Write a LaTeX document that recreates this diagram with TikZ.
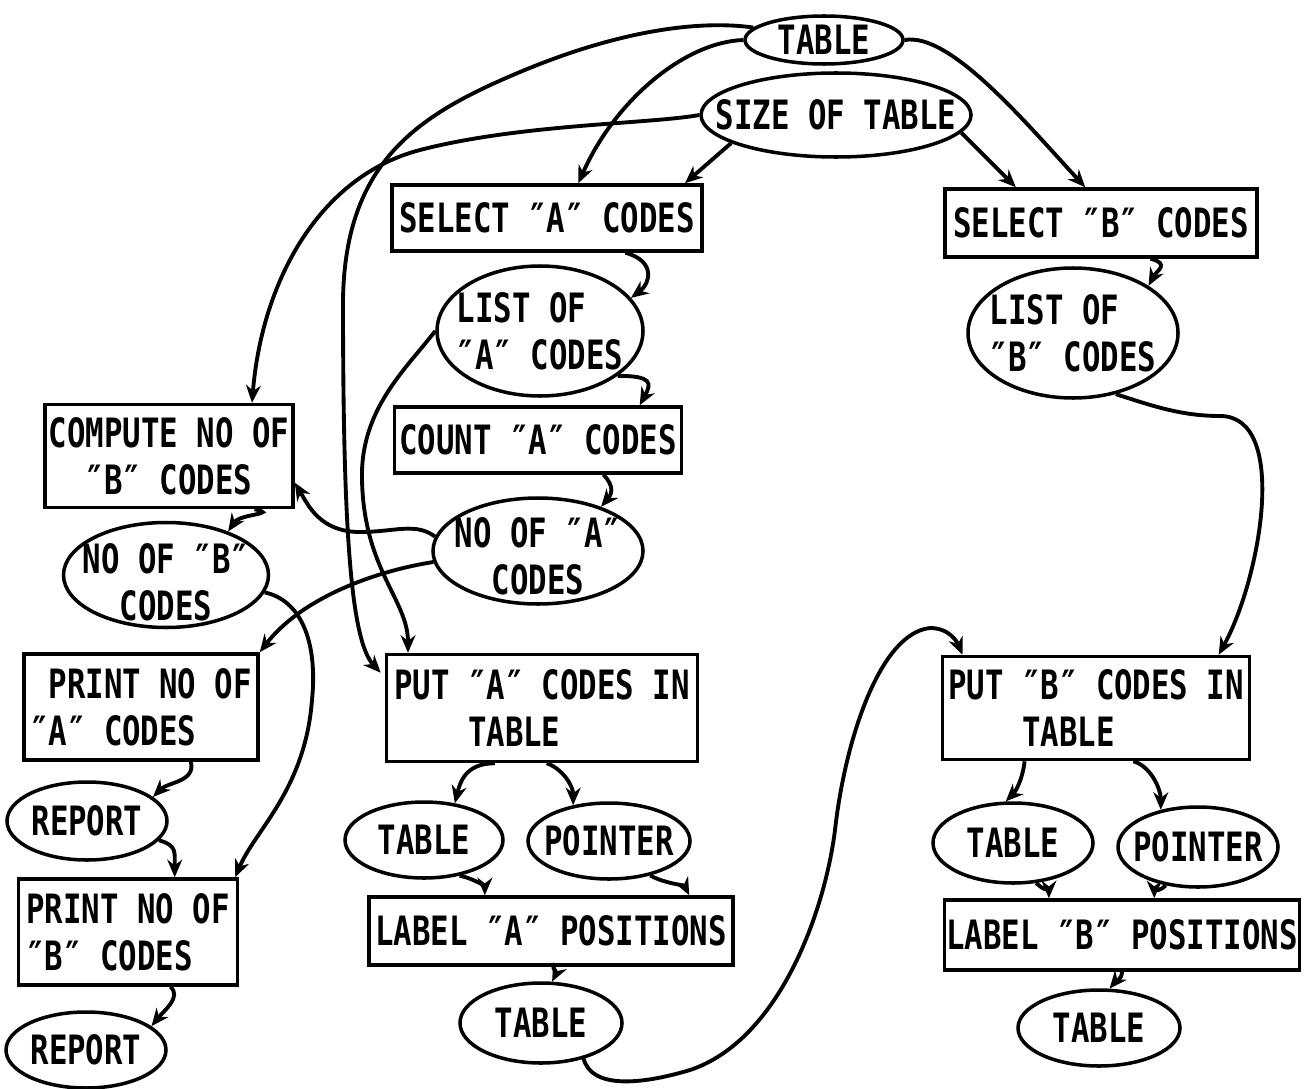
\documentclass[tikz,border=0pt]{standalone}
\usepackage{fontspec}
\newfontfamily\plotfont{DejaVu Sans Mono}[FakeStretch=0.76]
\usetikzlibrary{arrows.meta,calc,shapes.geometric}

\begin{document}
\begin{tikzpicture}[x=0.02cm, y=-0.02cm, >={Stealth[length=10pt,width=8.5pt]},
	every node/.style={font=\plotfont\bfseries\fontsize{23}{26.6}\selectfont},
	proc/.style={draw, rectangle, line width=2pt, inner sep=1pt},
	data/.style={draw, ellipse, line width=2pt, inner sep=0pt},
	dims/.style 2 args={minimum width=#1*0.02cm, minimum height=#2*0.02cm},
	flow/.style={->, line width=2.2pt}]
	
	% page
	\useasboundingbox (0,0) rectangle (1304,1088);
	
	% table and its size
	\node[data, dims={158}{48}, label={center:TABLE}] (tabTop) at (824,40) {};
	\node[data, dims={270}{84}, label={center:SIZE OF TABLE}] (sizeTab) at (836,115) {};
	
	% "A" codes
	\node[proc, dims={310}{66}] (selA) at (547,218) {SELECT ″A″ CODES};
	\node[data, dims={206}{130}, label={[align=left]center:LIST OF\\″A″ CODES}] (listA) at (540,331) {};
	\node[proc, dims={287}{66}] (cntA) at (538,440) {COUNT ″A″ CODES};
	\node[data, dims={210}{106}, label={[align=center, yshift=-3pt]center:NO OF ″A″\\CODES}] (noA) at (538,551) {};
	\node[proc, dims={311}{107}, align=left] (putA) at (542,708) {PUT ″A″ CODES IN\\\hphantom{XXXX}TABLE};
	\node[data, dims={158}{76}, label={center:TABLE}] (tabA) at (424,840) {};
	\node[data, dims={162}{76}, label={center:POINTER}] (ptrA) at (609,841) {};
	\node[proc, dims={364}{68}] (lblA) at (551,931) {LABEL ″A″ POSITIONS};
	\node[data, dims={162}{80}, label={center:TABLE}] (tabA2) at (541,1023) {};
	
	% "B" codes
	\node[proc, dims={312}{68}] (selB) at (1101,223) {SELECT ″B″ CODES};
	\node[data, dims={210}{130}, label={[align=left]center:LIST OF\\″B″ CODES}] (listB) at (1073,333) {};
	\node[proc, dims={307}{103}, align=left] (putB) at (1096,708) {PUT ″B″ CODES IN\\\hphantom{XXXX}TABLE};
	\node[data, dims={160}{80}, label={center:TABLE}] (tabB) at (1013,843) {};
	\node[data, dims={160}{80}, label={center:POINTER}] (ptrB) at (1198,847) {};
	\node[proc, dims={355}{70}] (lblB) at (1122,935) {LABEL ″B″ POSITIONS};
	\node[data, dims={162}{76}, label={center:TABLE}] (tabB2) at (1099,1028) {};
	
	% counts and reports
	\node[proc, dims={248}{103}, align=center] (compB) at (169,456) {COMPUTE NO OF\\″B″ CODES};
	\node[data, dims={205}{105}, label={[align=center, yshift=-4pt]center:NO OF ″B″\\CODES}] (noB) at (166,575) {};
	\node[proc, dims={234}{106}, align=left] (prA) at (141,707) {\hphantom{P}PRINT NO OF\\″A″ CODES};
	\node[data, dims={160}{78}, label={center:REPORT}] (rep1) at (87,821) {};
	\node[proc, dims={219}{106}, align=left] (prB) at (128,932) {PRINT NO OF\\″B″ CODES};
	\node[data, dims={160}{76}, label={center:REPORT}] (rep2) at (86,1050) {};
	
	% from the table
	\draw[flow] (tabTop.170) .. controls (700,20) and (620,30) .. (520,72)
		.. controls (420,114) and (345,160) .. (343,300)
		.. controls (343,520) and (350,640) .. ($(putA.north west)+(-4,20)$);
	\draw[flow] (tabTop.west) .. controls (685,42) and (615,100) .. ($(selA.north west)!0.6!(selA.north east)$);
	\draw[flow] (tabTop.east) .. controls +(45,-8) and +(-60,-65) .. ($(selB.north west)!0.45!(selB.north east)$);
	
	% from the size of the table
	\draw[flow] (sizeTab.west) .. controls (650,124) and (520,124) .. (420,150)
		.. controls (320,176) and (262,280) .. ($(compB.north west)!0.83!(compB.north east)$);
	\draw[flow] (sizeTab.195) -- ($(selA.north west)!0.94!(selA.north east)$);
	\draw[flow] (sizeTab.352) -- ($(selB.north west)!0.23!(selB.north east)$);
	
	% "A" chain
	\draw[flow] ($(selA.south west)!0.75!(selA.south east)$) .. controls +(30,8) and +(20,-15) .. (listA.20);
	\draw[flow] (listA.330) .. controls +(35,0) and +(12,-22) .. ($(cntA.north west)!0.85!(cntA.north east)$);
	\draw[flow] ($(cntA.south west)!0.725!(cntA.south east)$) .. controls +(12,12) and +(10,-12) .. (noA.35);
	\draw[flow] (noA.172) .. controls (415,522) and (395,532) .. (360,532)
		.. controls (320,532) and (308,505) .. ($(compB.north east)!0.75!(compB.south east)$);
	\draw[flow] (noA.186) .. controls (370,572) and (300,600) .. (prA.north east);
	\draw[flow] (listA.west) .. controls (405,370) and (360,410) .. (362,480)
		.. controls (364,570) and (408,600) .. ($(putA.north west)!0.074!(putA.north east)$);
	\draw[flow] ($(putA.south west)!0.35!(putA.south east)$) .. controls +(-30,0) and +(5,-20) .. (tabA.50);
	\draw[flow] ($(putA.south west)!0.515!(putA.south east)$) .. controls +(15,5) and +(0,-20) .. (ptrA.135);
	\draw[flow] (tabA.315) .. controls +(15,3) and +(0,-8) .. ($(lblA.north west)!0.32!(lblA.north east)$);
	\draw[flow] (ptrA.320) .. controls +(15,8) and +(-5,-10) .. ($(lblA.north west)!0.876!(lblA.north east)$);
	\draw[flow] ($(lblA.south west)!0.505!(lblA.south east)$) .. controls +(5,8) and +(3,-6) .. (tabA2.75);
	\draw[flow] (tabA2.320) .. controls +(8,30) and +(-50,15) .. (690,1070)
		.. controls +(90,-30) and +(-10,80) .. (835,830)
		.. controls +(10,-90) and +(-50,5) .. (930,628)
		.. controls +(20,0) and +(-5,-12) .. ($(putB.north west)!0.07!(putB.north east)$);
	
	% "B" chain
	\draw[flow] ($(selB.south west)!0.657!(selB.south east)$) .. controls +(20,5) and +(8,-15) .. (listB.32);
	\draw[flow] (listB.305) .. controls (1150,405) and (1180,416) .. (1220,416)
		.. controls (1290,416) and (1260,580) .. ($(putB.north west)!0.895!(putB.north east)$);
	\draw[flow] ($(putB.south west)!0.27!(putB.south east)$) .. controls +(-2,18) and +(10,-10) .. (tabB.100);
	\draw[flow] ($(putB.south west)!0.62!(putB.south east)$) .. controls +(18,5) and +(0,-20) .. (ptrB.135);
	\draw[flow] (tabB.300) .. controls +(5,5) and +(0,-6) .. ($(lblB.north west)!0.296!(lblB.north east)$);
	\draw[flow] (ptrB.230) .. controls +(-5,5) and +(0,-6) .. ($(lblB.north west)!0.59!(lblB.north east)$);
	\draw[flow] ($(lblB.south west)!0.5!(lblB.south east)$) .. controls +(0,8) and +(5,-6) .. (tabB2.75);
	
	% counts to reports
	\draw[flow] ($(compB.south west)!0.84!(compB.south east)$) .. controls +(25,5) and +(12,-18) .. (noB.35);
	\draw[flow] (noB.350) .. controls (300,600) and (318,640) .. (312,700)
		.. controls (305,790) and (255,830) .. ($(prB.north east)+(-4,0)$);
	\draw[flow] ($(prA.south west)!0.71!(prA.south east)$) .. controls +(5,20) and +(15,-15) .. (rep1.20);
	\draw[flow] (rep1.345) .. controls +(18,5) and +(0,-25) .. ($(prB.north west)!0.71!(prB.north east)$);
	\draw[flow] ($(prB.south west)!0.69!(prB.south east)$) .. controls +(12,10) and +(12,-15) .. (rep2.20);
\end{tikzpicture}
\end{document}
